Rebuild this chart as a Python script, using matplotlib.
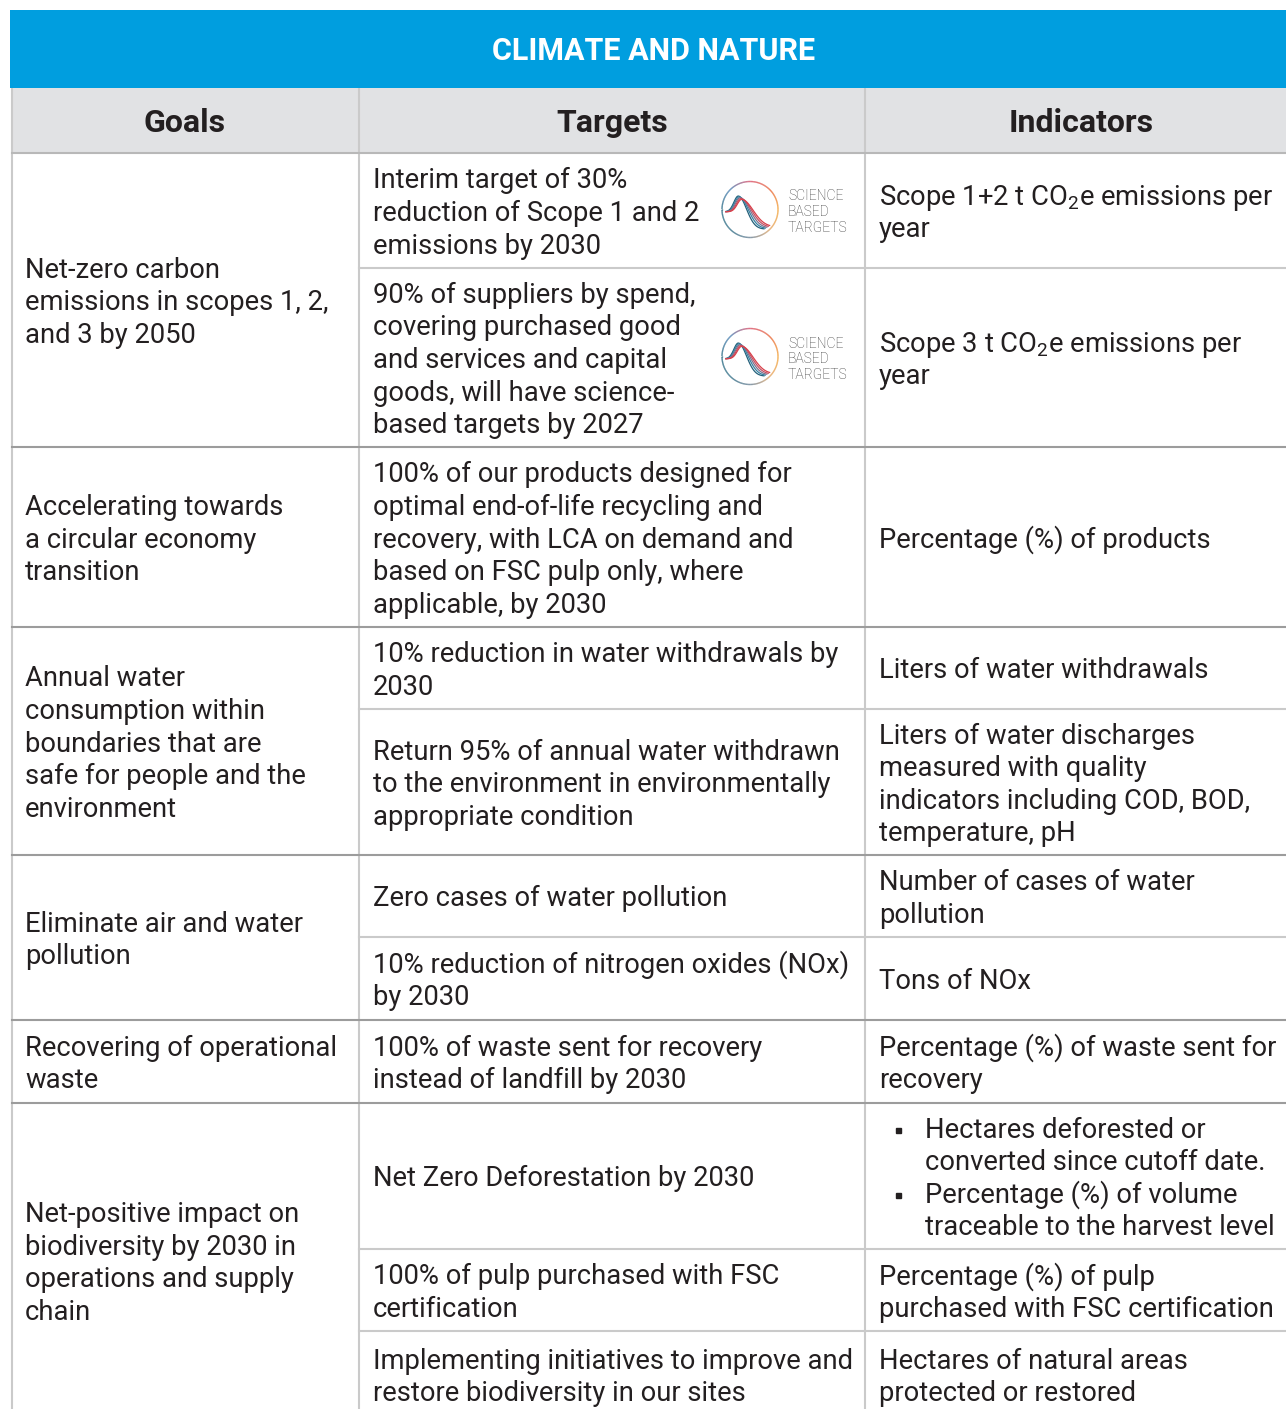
import matplotlib
matplotlib.use('Agg')
import matplotlib.pyplot as plt
import numpy as np
from matplotlib.patches import Rectangle
from matplotlib.collections import LineCollection
from matplotlib.colors import LinearSegmentedColormap

plt.rcParams['font.family'] = ['Roboto', 'DejaVu Sans']
plt.rcParams['mathtext.fontset'] = 'custom'
plt.rcParams['mathtext.rm'] = 'Roboto'
plt.rcParams['mathtext.it'] = 'Roboto'

# ---------------- data ----------------
title = "CLIMATE AND NATURE"
headers = ["Goals", "Targets", "Indicators"]

goals = [
    ["Net-zero carbon", "emissions in scopes 1, 2,", "and 3 by 2050"],
    ["Accelerating towards", "a circular economy", "transition"],
    ["Annual water", "consumption within", "boundaries that are", "safe for people and the", "environment"],
    ["Eliminate air and water", "pollution"],
    ["Recovering of operational", "waste"],
    ["Net-positive impact on", "biodiversity by 2030 in", "operations and supply", "chain"],
]

targets = [
    ["Interim target of 30%", "reduction of Scope 1 and 2", "emissions by 2030"],
    ["90% of suppliers by spend,", "covering purchased good", "and services and capital",
     "goods, will have science-", "based targets by 2027"],
    ["100% of our products designed for", "optimal end-of-life recycling and",
     "recovery, with LCA on demand and", "based on FSC pulp only, where", "applicable, by 2030"],
    ["10% reduction in water withdrawals by", "2030"],
    ["Return 95% of annual water withdrawn", "to the environment in environmentally",
     "appropriate condition"],
    ["Zero cases of water pollution"],
    ["10% reduction of nitrogen oxides (NOx)", "by 2030"],
    ["100% of waste sent for recovery", "instead of landfill by 2030"],
    ["Net Zero Deforestation by 2030"],
    ["100% of pulp purchased with FSC", "certification"],
    ["Implementing initiatives to improve and", "restore biodiversity in our sites"],
]

indicators = [
    ["Scope 1+2 t CO$_\\mathregular{2}$e emissions per", "year"],
    ["Scope 3 t CO$_\\mathregular{2}$e emissions per", "year"],
    ["Percentage (%) of products"],
    ["Liters of water withdrawals"],
    ["Liters of water discharges", "measured with quality", "indicators including COD, BOD,",
     "temperature, pH"],
    ["Number of cases of water", "pollution"],
    ["Tons of NOx"],
    ["Percentage (%) of waste sent for", "recovery"],
    ["Hectares deforested or", "converted since cutoff date.", "Percentage (%) of volume",
     "traceable to the harvest level"],
    ["Percentage (%) of pulp", "purchased with FSC certification"],
    ["Hectares of natural areas", "protected or restored"],
]
# indicator lines that start a bullet item (index of indicator row -> line indices)
bullet_lines = {8: [0, 2]}
# target rows that carry the Science Based Targets logo
sbti_rows = [0, 1]
logo_words = ["SCIENCE", "BASED", "TARGETS"]

# ---------------- layout ----------------
W, H = 1286, 1409
group_edges = [153, 447, 627, 855, 1020, 1103, 1418]
row_edges = [153, 268, 447, 627, 709, 855, 937, 1020, 1103, 1249, 1331, 1418]
col_x = [12, 359, 865, 1286]
text_x = [25, 373, 879]

BLUE = '#009EDF'
HEAD_BG = '#E1E2E4'
TXT = '#231F20'
LIGHT = '#CACACA'
DARK = '#9C9C9C'

FS = 19.7
PITCH = 32.6
OFF = 10.5

fig = plt.figure(figsize=(W / 100, H / 100), dpi=100)
ax = fig.add_axes([0, 0, 1, 1])
ax.set_xlim(0, W)
ax.set_ylim(H, 0)
ax.axis('off')

# title bar
ax.add_patch(Rectangle((10, 10), W - 10, 78, facecolor=BLUE, edgecolor='none', zorder=1))
ax.text(654, 51, title, ha='center', va='center', fontsize=22, fontweight='bold',
        color='white', zorder=5)

# header row
ax.add_patch(Rectangle((12, 88), W - 12, 65, facecolor=HEAD_BG, edgecolor='none', zorder=1))
head_cx = [185, 612, 1081]
for hx, h in zip(head_cx, headers):
    ax.text(hx, 132, h, ha='center', va='baseline', fontsize=23, fontweight='bold',
            color=TXT, zorder=5)

LW = 1.5
# vertical lines
for x in col_x[:3]:
    ax.plot([x, x], [88, H + 20], color=LIGHT, lw=LW, zorder=3, solid_capstyle='butt')
# header bottom
ax.plot([12, W], [153, 153], color='#B8B8B8', lw=LW, zorder=4)
# sub-row lines
for y in row_edges[1:-1]:
    if y not in group_edges:
        ax.plot([col_x[1], W], [y, y], color=LIGHT, lw=LW, zorder=3)
# group lines
for y in group_edges[1:-1]:
    ax.plot([12, W], [y, y], color=DARK, lw=LW, zorder=4)


def cell_text(x, top, bottom, lines, bullets=()):
    cy = (top + bottom) / 2
    n = len(lines)
    for i, ln in enumerate(lines):
        y = cy - (n - 1) / 2 * PITCH + i * PITCH + OFF
        if bullets is not None and len(bullets) > 0:
            ax.text(x + 46, y, ln, ha='left', va='baseline', fontsize=FS, color=TXT, zorder=5)
            if i in bullets:
                ax.plot([x + 19], [y - 8], marker='s', ms=3.6, color=TXT, zorder=5)
        else:
            ax.text(x, y, ln, ha='left', va='baseline', fontsize=FS, color=TXT, zorder=5)


for g, lines in enumerate(goals):
    cell_text(text_x[0], group_edges[g], group_edges[g + 1], lines)
for r, lines in enumerate(targets):
    cell_text(text_x[1], row_edges[r], row_edges[r + 1], lines)
for r, lines in enumerate(indicators):
    cell_text(text_x[2], row_edges[r], row_edges[r + 1], lines, bullet_lines.get(r, ()))

# Science Based Targets logo
ring_cmap = LinearSegmentedColormap.from_list('ring', [
    (0.0, '#F3A43A'), (0.12, '#EA6A3E'), (0.25, '#D8506A'), (0.37, '#4C82B4'),
    (0.5, '#2B6B84'), (0.62, '#2F6E86'), (0.75, '#6A8296'), (0.88, '#E7A866'),
    (1.0, '#F3A43A')])
curve_cmap = LinearSegmentedColormap.from_list('curv', ['#24607A', '#3A8FB0', '#C0566A', '#D8404A'])


def sbti_logo(cx, cy, r=28):
    t = np.linspace(0, 2 * np.pi, 240)
    xs = cx + r * np.cos(t)
    ys = cy - r * np.sin(t)
    pts = np.column_stack([xs, ys]).reshape(-1, 1, 2)
    segs = np.concatenate([pts[:-1], pts[1:]], axis=1)
    lc = LineCollection(segs, colors=ring_cmap(t[:-1] / (2 * np.pi)), linewidths=1.0, zorder=5)
    ax.add_collection(lc)
    for k in range(5):
        u = np.linspace(-0.86, 0.5 + 0.05 * k, 120)
        pk = -0.42 + 0.03 * k
        v = np.where(u < pk,
                     -0.08 + (0.48 - 0.03 * k + 0.08) * np.exp(-((u - pk) / 0.22) ** 2),
                     0.48 - 0.03 * k - (1.18 - 0.05 * k) * (1 - np.exp(-((u - pk) / (0.42 + 0.04 * k)) ** 2)))
        ax.plot(cx + r * u, cy - r * v, color=curve_cmap(k / 4), lw=0.9, zorder=5)
    for i, w in enumerate(logo_words):
        ax.text(cx + 38, cy - 14 + i * 15.5 + 5, w, ha='left', va='baseline', fontsize=10,
                fontweight='light', color='#3A3A3A', zorder=5)


for r in sbti_rows:
    cy = (row_edges[r] + row_edges[r + 1]) / 2
    sbti_logo(750, cy - 1)

fig.savefig('out.png', dpi=100, facecolor='white')
